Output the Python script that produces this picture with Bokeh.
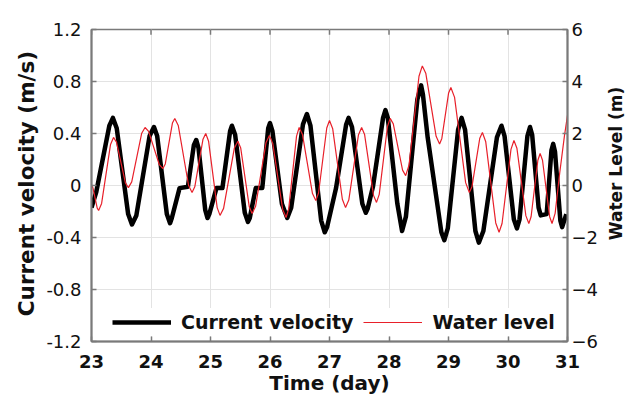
import math
from bokeh.plotting import figure
from bokeh.layouts import row
from bokeh.models import (Range1d, LinearAxis, FixedTicker, NumeralTickFormatter,
                          Legend, LegendItem)
from bokeh.core.properties import value
from bokeh.embed import file_html
from bokeh.resources import INLINE

# ---- data ----
vel_day = [23.00, 23.08, 23.30, 23.36, 23.424, 23.616, 23.68, 23.754, 23.976, 24.05,
           24.104, 24.266, 24.32, 24.35, 24.48, 24.62, 24.72, 24.76, 24.798, 24.912,
           24.95, 24.98, 25.10, 25.20, 25.33, 25.36, 25.414, 25.576, 25.63, 25.66,
           25.76, 25.87, 25.97, 26.00, 26.04, 26.20, 26.29, 26.356, 26.554, 26.62,
           26.68, 26.86, 26.92, 26.96, 27.11, 27.28, 27.32, 27.378, 27.552, 27.61,
           27.64, 27.73, 27.90, 27.94, 27.98, 28.14, 28.22, 28.284, 28.476, 28.54,
           28.57, 28.65, 28.88, 28.93, 28.988, 29.162, 29.22, 29.278, 29.452, 29.51,
           29.586, 29.814, 29.89, 29.942, 30.098, 30.15, 30.194, 30.326, 30.37, 30.406,
           30.514, 30.55, 30.65, 30.73, 30.76, 30.79, 30.88, 30.91, 30.98]
vel = [-0.17, -0.05, 0.46, 0.52, 0.44, -0.22, -0.30, -0.23, 0.38, 0.45,
       0.38, -0.22, -0.29, -0.25, -0.02, -0.01, 0.31, 0.35, 0.29, -0.19,
       -0.25, -0.22, -0.02, -0.02, 0.42, 0.46, 0.39, -0.21, -0.28, -0.25,
       -0.02, -0.02, 0.44, 0.48, 0.42, -0.14, -0.25, -0.17, 0.47, 0.55,
       0.46, -0.27, -0.36, -0.32, -0.02, 0.47, 0.52, 0.45, -0.14, -0.21,
       -0.18, -0.01, 0.52, 0.58, 0.52, -0.14, -0.35, -0.24, 0.66, 0.77,
       0.70, 0.37, -0.36, -0.42, -0.33, 0.43, 0.52, 0.43, -0.35, -0.44,
       -0.35, 0.37, 0.46, 0.38, -0.26, -0.33, -0.26, 0.38, 0.45, 0.39,
       -0.17, -0.23, -0.22, 0.27, 0.32, 0.26, -0.27, -0.32, -0.22]

wl_day = [23.00, 23.024, 23.096, 23.12, 23.17, 23.32, 23.37, 23.42, 23.57, 23.62,
          23.676, 23.844, 23.90, 23.96, 24.14, 24.20, 24.24, 24.36, 24.40, 24.458,
          24.632, 24.69, 24.736, 24.874, 24.92, 24.968, 25.112, 25.16, 25.22, 25.40,
          25.46, 25.508, 25.652, 25.70, 25.758, 25.932, 25.99, 26.046, 26.214, 26.27,
          26.314, 26.446, 26.49, 26.546, 26.714, 26.77, 26.816, 26.954, 27.00, 27.054,
          27.216, 27.27, 27.324, 27.486, 27.54, 27.59, 27.74, 27.79, 27.836, 27.974,
          28.02, 28.072, 28.228, 28.28, 28.336, 28.504, 28.56, 28.618, 28.792, 28.85,
          28.888, 29.002, 29.04, 29.102, 29.288, 29.35, 29.394, 29.526, 29.57, 29.626,
          29.794, 29.85, 29.90, 30.05, 30.10, 30.15, 30.30, 30.35, 30.388, 30.502,
          30.54, 30.58, 30.70, 30.74, 30.792, 30.87, 30.948, 31.00]
wl = [0.00, -0.09, -0.87, -0.96, -0.69, 1.58, 1.85, 1.67, 0.10, -0.08,
      0.14, 2.01, 2.23, 2.08, 0.80, 0.65, 0.83, 2.40, 2.58, 2.31,
      0.00, -0.27, -0.05, 1.78, 2.00, 1.70, -0.85, -1.15, -0.88, 1.43,
      1.70, 1.44, -0.82, -1.08, -0.80, 1.64, 1.92, 1.62, -0.93, -1.23,
      -0.90, 1.90, 2.23, 1.96, -0.31, -0.58, -0.29, 2.21, 2.50, 2.18,
      -0.53, -0.85, -0.56, 1.94, 2.23, 1.96, -0.38, -0.65, -0.34, 2.27,
      2.58, 2.37, 0.59, 0.38, 0.78, 4.20, 4.60, 4.32, 1.89, 1.60,
      1.81, 3.56, 3.77, 3.39, 0.11, -0.27, -0.05, 1.82, 2.04, 1.68,
      -1.44, -1.80, -1.46, 1.39, 1.73, 1.43, -1.16, -1.46, -1.20, 0.97,
      1.23, 0.97, -1.20, -1.46, -1.07, 0.50, 1.90, 2.70]

x_ticks = [23, 24, 25, 26, 27, 28, 29, 30, 31]
vel_ticks = [-1.2, -0.8, -0.4, 0, 0.4, 0.8, 1.2]
wl_ticks = [-6, -4, -2, 0, 2, 4, 6]
left_label = ["Current velocity (m/s)"]
right_label = ["Water Level (m)"]

FONT = "DejaVu Sans"
AX = "#7a7a7a"
TOTAL_H = 403
LEFT_W = 40
RIGHT_W = 30

p = figure(width=561, height=TOTAL_H, output_backend="svg",
           toolbar_location=None, x_range=Range1d(23, 31), y_range=Range1d(-1.2, 1.2),
           min_border_left=51, min_border_top=29, min_border_right=30, min_border_bottom=62)
p.extra_y_ranges = {"wl": Range1d(-6, 6)}
p.background_fill_color = "white"
p.border_fill_color = "white"
p.outline_line_color = AX
p.outline_line_width = 1.5

# grids
p.xgrid.ticker = FixedTicker(ticks=x_ticks)
p.ygrid.ticker = FixedTicker(ticks=vel_ticks)
for g in (p.xgrid, p.ygrid):
    g.grid_line_color = "#e3e3e3"
    g.grid_line_width = 1

def style(ax, size="18px", bold_labels=False):
    ax.axis_line_color = AX
    ax.axis_line_width = 2
    ax.major_tick_line_color = AX
    ax.major_tick_line_width = 1.5
    ax.major_tick_in = 5
    ax.major_tick_out = 0
    ax.minor_tick_line_color = None
    ax.major_label_text_font = FONT
    ax.major_label_text_font_size = size
    ax.major_label_text_color = "#111111"
    ax.major_label_text_font_style = "bold" if bold_labels else "normal"
    ax.axis_label_text_font = FONT
    ax.axis_label_text_font_size = "20px"
    ax.axis_label_text_font_style = "bold"
    ax.axis_label_text_color = "#111111"

# bottom axis
xa = p.xaxis[0]
xa.ticker = FixedTicker(ticks=x_ticks)
xa.axis_label = "Time (day)"
style(xa, size="18px", bold_labels=True)
xa.major_label_standoff = 13
xa.axis_label_standoff = 0

# left axis (title drawn in the left strip)
ya = p.yaxis[0]
ya.ticker = FixedTicker(ticks=vel_ticks)
ya.formatter = NumeralTickFormatter(format="0.[0]")
style(ya)
ya.major_label_standoff = 10

# right axis (title drawn in the right strip, reading bottom-to-top)
ra = LinearAxis(y_range_name="wl", ticker=FixedTicker(ticks=wl_ticks))
style(ra)
ra.major_label_standoff = 4
p.add_layout(ra, "right")

# inward ticks along the top edge of the box
p.segment(x0=x_ticks, y0=[1.2] * len(x_ticks), x1=x_ticks,
          y1=[1.2 - 0.04] * len(x_ticks), line_color=AX, line_width=1.5)

r_vel = p.line(vel_day, vel, line_color="black", line_width=4.5, line_join="round")
r_wl = p.line(wl_day, wl, y_range_name="wl", line_color="#e8202a", line_width=1.2)

legend = Legend(items=[LegendItem(label="Current velocity", renderers=[r_vel]),
                       LegendItem(label="Water level", renderers=[r_wl])],
                orientation="horizontal", location=(18, 5), margin=0, padding=3,
                spacing=10, glyph_width=59, glyph_height=20, label_standoff=10,
                label_text_font=FONT, label_text_font_size="19px",
                label_text_font_style="bold", label_text_color="#111111",
                border_line_alpha=0, background_fill_color="white",
                background_fill_alpha=1.0)
p.add_layout(legend, "center")

def strip(width):
    s = figure(width=width, height=TOTAL_H, output_backend="svg", toolbar_location=None,
               x_range=Range1d(0, width), y_range=Range1d(0, TOTAL_H),
               x_axis_location=None, y_axis_location=None, min_border=0)
    s.outline_line_color = None
    s.grid.visible = False
    s.background_fill_color = "white"
    s.border_fill_color = "white"
    return s

p0 = strip(LEFT_W)
p0.text(x=[26], y=[TOTAL_H - 199], text=left_label, angle=math.pi / 2,
        text_align="center", text_baseline="middle", text_font=value(FONT),
        text_font_size="21.5px", text_font_style="bold", text_color="#111111")

p2 = strip(RIGHT_W)
p2.text(x=[14], y=[TOTAL_H - 173], text=right_label, angle=math.pi / 2,
        text_align="center", text_baseline="middle", text_font=value(FONT),
        text_font_size="17px", text_font_style="bold", text_color="#111111")

layout = row(p0, p, p2, spacing=0)
open("out.html", "w").write(file_html(layout, INLINE))
